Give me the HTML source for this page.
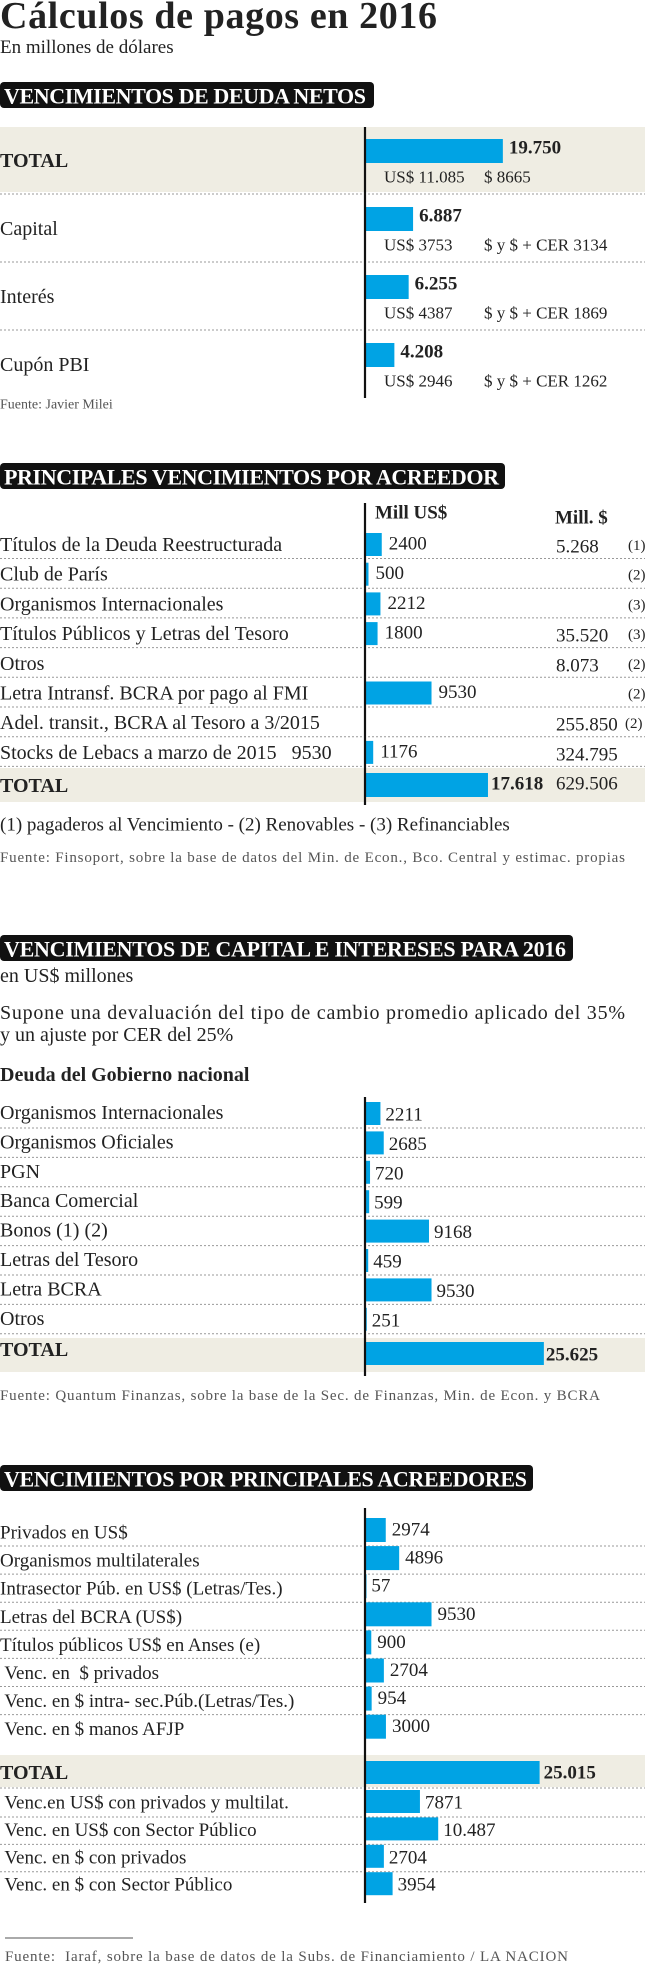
<!DOCTYPE html>
<html><head><meta charset="utf-8">
<style>
html,body{margin:0;padding:0;background:#fff;}
svg{display:block;font-family:"Liberation Serif",serif;}
</style></head>
<body>
<svg id="c" width="645" height="1965" viewBox="0 0 645 1965" xmlns="http://www.w3.org/2000/svg">
<text x="0" y="28" font-size="38" font-weight="bold" fill="#222" textLength="437">Cálculos de pagos en 2016</text>
<text x="0" y="53" font-size="19" fill="#222">En millones de dólares</text>
</svg>
<script>
const S1_labels=["TOTAL","Capital","Interés","Cupón PBI"];
const S1_values=[19750,6887,6255,4208];
const S1_usd=["US$ 11.085","US$ 3753","US$ 4387","US$ 2946"];
const S1_peso=["$ 8665","$ y $ + CER 3134","$ y $ + CER 1869","$ y $ + CER 1262"];

const S2_labels=["Títulos de la Deuda Reestructurada","Club de París","Organismos Internacionales","Títulos Públicos y Letras del Tesoro","Otros","Letra Intransf. BCRA por pago al FMI","Adel. transit., BCRA al Tesoro a 3/2015","Stocks de Lebacs a marzo de 2015   9530"];
const S2_usd=[2400,500,2212,1800,null,9530,null,1176];
const S2_peso=["5.268","","","35.520","8.073","","255.850","324.795"];
const S2_notes=["(1)","(2)","(3)","(3)","(2)","(2)","(2)",""];
const S2_total=17618;
const S2_totalLabel="17.618";
const S2_totalPeso="629.506";

const S3_labels=["Organismos Internacionales","Organismos Oficiales","PGN","Banca Comercial","Bonos (1) (2)","Letras del Tesoro","Letra BCRA","Otros"];
const S3_values=[2211,2685,720,599,9168,459,9530,251];
const S3_total=25625;
const S3_totalLabel="25.625";

const S4_labels=["Privados en US$","Organismos multilaterales","Intrasector Púb. en US$ (Letras/Tes.)","Letras del BCRA (US$)","Títulos públicos US$ en Anses (e)"," Venc. en  $ privados"," Venc. en $ intra- sec.Púb.(Letras/Tes.)"," Venc. en $ manos AFJP"];
const S4_values=[2974,4896,57,9530,900,2704,954,3000];
const S4_total=25015;
const S4_totalLabel="25.015";
const S4_labels2=[" Venc.en US$ con privados y multilat."," Venc. en US$ con Sector Público"," Venc. en $ con privados"," Venc. en $ con Sector Público"];
const S4_values2=[7871,10487,2704,3954];
const S4_valueLabels2=["7871","10.487","2704","3954"];

const svg=document.getElementById('c');
const NS="http://www.w3.org/2000/svg";
const AX=365, K=0.00698;
const BLUE="#00a3e4", BEIGE="#efede3";
function xs(v){return v*K;}
function mk(tag,attrs,txt){const e=document.createElementNS(NS,tag);for(const k in attrs)e.setAttribute(k,attrs[k]);if(txt!==undefined)e.textContent=txt;svg.appendChild(e);return e;}
function txt(x,y,s,size,opts){opts=opts||{};const a={x:x,y:y,"font-size":size,fill:opts.fill||"#222","dominant-baseline":"central"};if(opts.bold)a["font-weight"]="bold";if(opts.tl)a.textLength=opts.tl;if(opts.anchor)a["text-anchor"]=opts.anchor;const e=mk("text",a,s);e.setAttribute("xml:space","preserve");e.style.whiteSpace="pre";return e;}
function sep(y){const e=mk("line",{x1:0,x2:645,y1:y,y2:y,stroke:"#999","stroke-width":1,"stroke-dasharray":"2 2"});

}
function bg(y,h){const e=mk("rect",{x:0,y:y,width:645,height:h,fill:BEIGE});

}
function bar(y,h,v){const e=mk("rect",{x:AX,y:y,width:Math.max(xs(v),1.5),height:h,fill:BLUE});

return e;}
function axis(y1,y2){const e=mk("line",{x1:AX,x2:AX,y1:y1,y2:y2,stroke:"#111","stroke-width":2.2});

}
function header(y,w,s,tl){const r=mk("rect",{x:0,y:y,width:w,height:26,rx:4,fill:"#111"});


const t=txt(4,y+14,s,22,{bold:true,fill:"#fff",tl:tl});

}
function lab(x,y,s,size,opts,name){const t=txt(x,y,s,size,opts);

return t;}

/* Section 1 */
header(82,374,"VENCIMIENTOS DE DEUDA NETOS",362);
bg(127,65);
for(let i=0;i<4;i++){
  const top=127+i*68;
  if(i>0)sep(top-1);
  bar(top+12,24,S1_values[i]);
  lab(0,top+34,S1_labels[i],20,{bold:i===0},'row-label');
  lab(AX+xs(S1_values[i])+6,top+21,S1_values[i].toLocaleString('de-DE'),19,{bold:true},'bar-value');
  lab(384,top+50,S1_usd[i],17,{},'usd-value');
  lab(484,top+50,S1_peso[i],17,{},'peso-value');
}
axis(127,398);
lab(0,405,"Fuente: Javier Milei",14,{fill:"#555"},'source-note');

/* Section 2 */
header(463,505,"PRINCIPALES VENCIMIENTOS POR ACREEDOR",495);
lab(375,513,"Mill US$",19,{bold:true},'column-header-usd');
lab(555,518,"Mill. $",19,{bold:true},'column-header-peso');
for(let i=0;i<8;i++){
  const top=530+i*29.7;
  lab(0,top+15,S2_labels[i],20,{},'row-label');
  if(S2_usd[i]!==null){bar(top+3,23,S2_usd[i]);
    lab(AX+xs(S2_usd[i])+7,top+14,String(S2_usd[i]),19,{},'bar-value');}
  if(S2_peso[i])lab(556,top+17,S2_peso[i],19,{},'peso-value');
  if(S2_notes[i])lab(i===6?625:628,top+16,S2_notes[i],15,{},'note-marker');
  sep(top+28.5);
}
bg(768,34);
bar(773,24,S2_total);
lab(0,786,"TOTAL",20,{bold:true},'total-label');
lab(AX+xs(S2_total)+3,784,S2_totalLabel,19,{bold:true},'total-value');
lab(556,784,S2_totalPeso,19,{},'total-peso-value');
axis(503,805);
lab(0,825,"(1) pagaderos al Vencimiento - (2) Renovables - (3) Refinanciables",19,{},'footnote');
lab(0,858,"Fuente: Finsoport, sobre la base de datos del Min. de Econ., Bco. Central y estimac. propias",15,{fill:"#555",tl:625},'source-note');

/* Section 3 */
header(935,573,"VENCIMIENTOS DE CAPITAL E INTERESES PARA 2016",562);
lab(0,976,"en US$ millones",20,{},'unit-note');
lab(0,1013,"Supone una devaluación del tipo de cambio promedio aplicado del 35%",20,{tl:625},'assumption-line-1');
lab(0,1035,"y un ajuste por CER del 25%",20,{},'assumption-line-2');
lab(0,1075,"Deuda del Gobierno nacional",20,{bold:true},'subsection-title');
for(let i=0;i<8;i++){
  const top=1098+i*29.4;
  lab(0,top+15,S3_labels[i],20,{},'row-label');
  bar(top+4,23,S3_values[i]);
  lab(AX+xs(S3_values[i])+5,top+17,String(S3_values[i]),19,{},'bar-value');
  sep(top+30);
}
bg(1338,34);
bar(1342,23,S3_total);
lab(0,1350,"TOTAL",20,{bold:true},'total-label');
lab(AX+xs(S3_total)+2,1355,S3_totalLabel,19,{bold:true},'total-value');
axis(1097,1376);
lab(0,1396,"Fuente: Quantum Finanzas, sobre la base de la Sec. de Finanzas, Min. de Econ. y BCRA",15,{fill:"#555",tl:600},'source-note');

/* Section 4 */
header(1465,533,"VENCIMIENTOS POR PRINCIPALES ACREEDORES",523);
for(let i=0;i<8;i++){
  const c=1533+i*28.1;
  lab(0,c,S4_labels[i],19,{},'row-label');
  bar(c-15,24,S4_values[i]);
  lab(AX+xs(S4_values[i])+6,c-3,String(S4_values[i]),19,{},'bar-value');
  if(i<7)sep(c+13);
}
bg(1755,32);
bar(1761,23,S4_total);
lab(0,1773,"TOTAL",20,{bold:true},'total-label');
lab(AX+xs(S4_total)+4,1773,S4_totalLabel,19,{bold:true},'total-value');
sep(1788);
for(let i=0;i<4;i++){
  const c=1803+i*27.4;
  lab(0,c,S4_labels2[i],19,{},'row-label');
  bar(c-13,23,S4_values2[i]);
  lab(AX+xs(S4_values2[i])+5,c,S4_valueLabels2[i],19,{},'bar-value');
  if(i<3)sep(c+14);
}
axis(1508,1903);
const rl=mk("line",{x1:5,x2:133,y1:1938,y2:1938,stroke:"#555","stroke-width":1});


lab(5,1957,"Fuente:  Iaraf, sobre la base de datos de la Subs. de Financiamiento / LA NACION",15,{fill:"#555",tl:563},'source-note');
</script>
</body></html>
